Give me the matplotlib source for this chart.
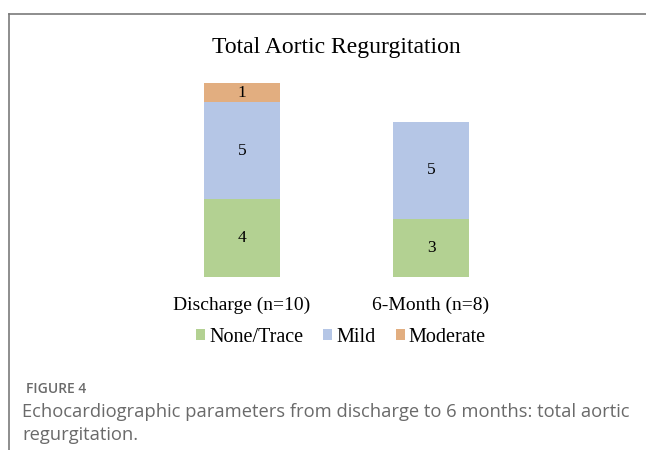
import matplotlib.pyplot as plt
from matplotlib.patches import Patch
from matplotlib.lines import Line2D
import numpy as np

categories = ["Discharge (n=10)", "6-Month (n=8)"]
none_trace = [4, 3]
mild = [5, 5]
moderate = [1, 0]
series_names = ["None/Trace", "Mild", "Moderate"]
colors = ["#B3D192", "#B5C6E6", "#E2AE80"]

W, H = 646, 450
fig = plt.figure(figsize=(W / 100, H / 100), dpi=100)
serif = "Liberation Serif"

# bar axes, placed in pixels
left, width = 147.5, 378
bottom, height = H - 277, 194
ax = fig.add_axes([left / W, bottom / H, width / W, height / H])
x = np.arange(len(categories))
b1 = ax.bar(x, none_trace, width=0.4, color=colors[0])
b2 = ax.bar(x, mild, width=0.4, bottom=none_trace, color=colors[1])
b3 = ax.bar(x, moderate, width=0.4, bottom=np.add(none_trace, mild), color=colors[2])
for bars, vals in [(b1, none_trace), (b2, mild), (b3, moderate)]:
    labels = [str(v) if v else "" for v in vals]
    ax.bar_label(bars, labels=labels, label_type="center", fontsize=12.5, family=serif)
ax.set_xlim(-0.5, 1.5)
ax.set_ylim(0, 10)
ax.set_xticks(x, categories, fontsize=14, family=serif)
ax.tick_params(axis="x", length=0, pad=14)
ax.set_yticks([])
for s in ax.spines.values():
    s.set_visible(False)

fig.text(336 / W, 1 - 48 / H, "Total Aortic Regurgitation", ha="center", va="center",
         fontsize=17, family=serif)

handles = [Patch(facecolor=c, edgecolor="none") for c in colors]
fig.legend(handles, series_names, loc="center", bbox_to_anchor=(341 / W, 1 - 337 / H),
           ncol=3, frameon=False, prop={"family": serif, "size": 14.5},
           handlelength=0.45, handleheight=0.45, handletextpad=0.2, columnspacing=1.0)

# frame lines
fig.add_artist(Line2D([9 / W, 1], [1 - 14 / H, 1 - 14 / H], color="#7a7a7a", lw=1.2))
fig.add_artist(Line2D([9 / W, 9 / W], [0, 1 - 14 / H], color="#7a7a7a", lw=1.2))

fig.text(26 / W, 1 - 389 / H, "FIGURE 4", ha="left", va="center", fontsize=10,
         family="Open Sans", weight="semibold", color="#6a6a6a")
fig.text(22 / W, 1 - 412 / H, "Echocardiographic parameters from discharge to 6 months: total aortic",
         ha="left", va="center", fontsize=13.2, family="Open Sans", color="#6a6a6a")
fig.text(22 / W, 1 - 435 / H, "regurgitation.", ha="left", va="center", fontsize=13.2,
         family="Open Sans", color="#6a6a6a")

fig.savefig("out.png", dpi=100)
